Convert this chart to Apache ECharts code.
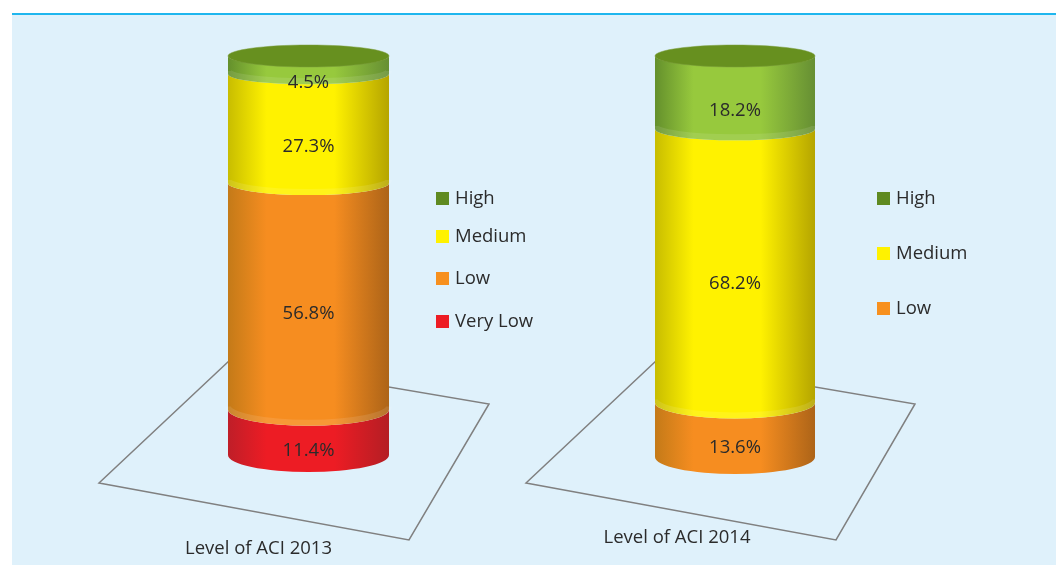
<!DOCTYPE html>
<html>
<head>
<meta charset="utf-8">
<style>
  html, body { margin: 0; padding: 0; background: #fff; }
  #chart { width: 1056px; height: 565px; }
</style>
<script src="https://cdn.jsdelivr.net/npm/echarts@6/dist/echarts.min.js"></script>
</head>
<body>
<div id="chart"></div>
<script>
// 数据 top of the cylinder first
const names2013 = ['High', 'Medium', 'Low', 'Very Low'];
const values2013 = [4.5, 27.3, 56.8, 11.4];
const names2014 = ['High', 'Medium', 'Low'];
const values2014 = [18.2, 68.2, 13.6];
const category2013 = ['Level of ACI 2013'];
const category2014 = ['Level of ACI 2014'];

const fontName = '"Open Sans", sans-serif';
const fontSize = 18.5;
const textColor = '#2b2b2b';

// legend colour, then left edge / centre / right edge of the cylinder shading
const colors = {
  'High': ['#5f8a21', '#64902c', '#97c93d', '#668f33'],
  'Medium': ['#fff200', '#c8bd00', '#fff200', '#b5a500'],
  'Low': ['#f7901e', '#c47a18', '#f68d20', '#ad6418'],
  'Very Low': ['#ed1c24', '#bf1e28', '#ed1c24', '#b41e24']
};

function arc(rx, ry, x, y, sweep) {
  return 'A' + rx + ' ' + ry + ' 0 0 ' + sweep + ' ' + x + ' ' + y;
}

// 一段圆柱 one stacked segment, curved edges follow the perspective of the picture
function renderSegment(params, api) {
  const sys = params.coordSys;
  const name = params.seriesName;
  const c = colors[name];
  const start = api.value(1);
  const end = api.value(2);
  const yTop = api.coord([0, end])[1];
  const yBot = api.coord([0, start])[1];
  const w = api.size([1, 0])[0];
  const left = sys.x;
  const right = sys.x + w;
  const cx = sys.x + w / 2;
  const rx = w / 2;
  const ryAt = y => 10 + 7 * (y - sys.y) / sys.height;
  const ryTop = ryAt(yTop);
  const ryBot = ryAt(yBot);
  const shade = new echarts.graphic.LinearGradient(0, 0, 1, 0, [
    { offset: 0, color: c[1] },
    { offset: 0.24, color: c[2] },
    { offset: 0.66, color: c[2] },
    { offset: 1, color: c[3] }
  ]);
  const children = [{
    type: 'path',
    shape: {
      pathData: 'M' + left + ' ' + yTop + arc(rx, ryTop, right, yTop, 0) +
        'L' + right + ' ' + yBot + arc(rx, ryBot, left, yBot, 1) + 'Z',
      x: left, y: yTop, width: w, height: yBot - yTop + ryBot
    },
    style: { fill: shade }
  }];
  // 底边高光 soft rim along the lower edge of the segment
  if (start > 0) {
    children.push({
      type: 'path',
      shape: {
        pathData: 'M' + left + ' ' + (yBot - 3) + arc(rx, ryBot, right, yBot - 3, 0),
        x: left, y: yBot - 3, width: w, height: ryBot
      },
      style: { fill: 'none', stroke: 'rgba(255,255,255,0.1)', lineWidth: 6 }
    });
  }
  // 顶面 only the top segment gets the cap
  if (end >= 100) {
    children.push({
      type: 'ellipse',
      shape: { cx: cx, cy: yTop, rx: rx, ry: ryTop + 1 },
      style: { fill: '#67901f', stroke: 'rgba(122,156,58,0.5)', lineWidth: 1 }
    });
  }
  children.push({
    type: 'text',
    z2: 10,
    style: {
      x: cx,
      y: (yTop + yBot) / 2 + 18,
      text: api.value(3) + '%',
      align: 'center',
      verticalAlign: 'middle',
      font: fontSize + 'px ' + fontName,
      fill: textColor
    }
  });
  return { type: 'group', children: children };
}

// 从底部往上堆叠
function buildSeries(names, values, axisIndex) {
  const list = [];
  let sum = 0;
  for (let i = names.length - 1; i >= 0; i--) {
    const from = sum;
    sum = Math.round((sum + values[i]) * 10) / 10;
    list.push({
      type: 'custom',
      name: names[i],
      xAxisIndex: axisIndex,
      yAxisIndex: axisIndex,
      renderItem: renderSegment,
      itemStyle: { color: colors[names[i]][0] },
      encode: { x: 0, y: [1, 2] },
      data: [[0, from, sum, values[i]]]
    });
  }
  return list;
}

// 图例 each entry is placed by itself, the picture does not space them evenly
function buildLegend(names, left, tops) {
  return names.map((name, i) => ({
    left: left,
    top: tops[i],
    padding: 0,
    itemWidth: 13,
    itemHeight: 13,
    selectedMode: false,
    data: [{ name: name, icon: 'rect' }],
    textStyle: { fontFamily: fontName, fontSize: fontSize, color: textColor, padding: [0, 0, 10, 1] }
  }));
}

function floor(points) {
  return {
    type: 'polygon',
    z: 1,
    shape: { points: points },
    style: { fill: 'none', stroke: '#808080', lineWidth: 1.5 }
  };
}

const chart = echarts.init(document.getElementById('chart'), null, { renderer: 'canvas' });
chart.setOption({
  animation: false,
  backgroundColor: '#fff',
  graphic: [
    { type: 'rect', z: 0, shape: { x: 12, y: 15, width: 1044, height: 550 }, style: { fill: '#dff1fb' } },
    { type: 'rect', z: 0, shape: { x: 12, y: 13, width: 1044, height: 2 }, style: { fill: '#1fb6ee' } },
    floor([[99, 483], [230, 360], [489, 404], [409, 540]]),
    floor([[526, 483], [657, 360], [915, 404], [836, 540]])
  ],
  legend: buildLegend(names2013, 436, [189, 227, 269, 312])
    .concat(buildLegend(names2014, 877, [189, 244, 299])),
  grid: [
    { left: 228, top: 56, width: 161, height: 399 },
    { left: 655, top: 56, width: 160, height: 401 }
  ],
  xAxis: [
    {
      gridIndex: 0,
      type: 'category',
      data: category2013,
      axisLine: { show: false },
      axisTick: { show: false },
      axisLabel: { margin: 84, padding: [0, 100, 0, 0], fontFamily: fontName, fontSize: fontSize, color: textColor }
    },
    {
      gridIndex: 1,
      type: 'category',
      data: category2014,
      axisLine: { show: false },
      axisTick: { show: false },
      axisLabel: { margin: 71, padding: [0, 116, 0, 0], fontFamily: fontName, fontSize: fontSize, color: textColor }
    }
  ],
  yAxis: [
    { gridIndex: 0, type: 'value', min: 0, max: 100, show: false },
    { gridIndex: 1, type: 'value', min: 0, max: 100, show: false }
  ],
  series: buildSeries(names2013, values2013, 0).concat(buildSeries(names2014, values2014, 1))
});
</script>
</body>
</html>
